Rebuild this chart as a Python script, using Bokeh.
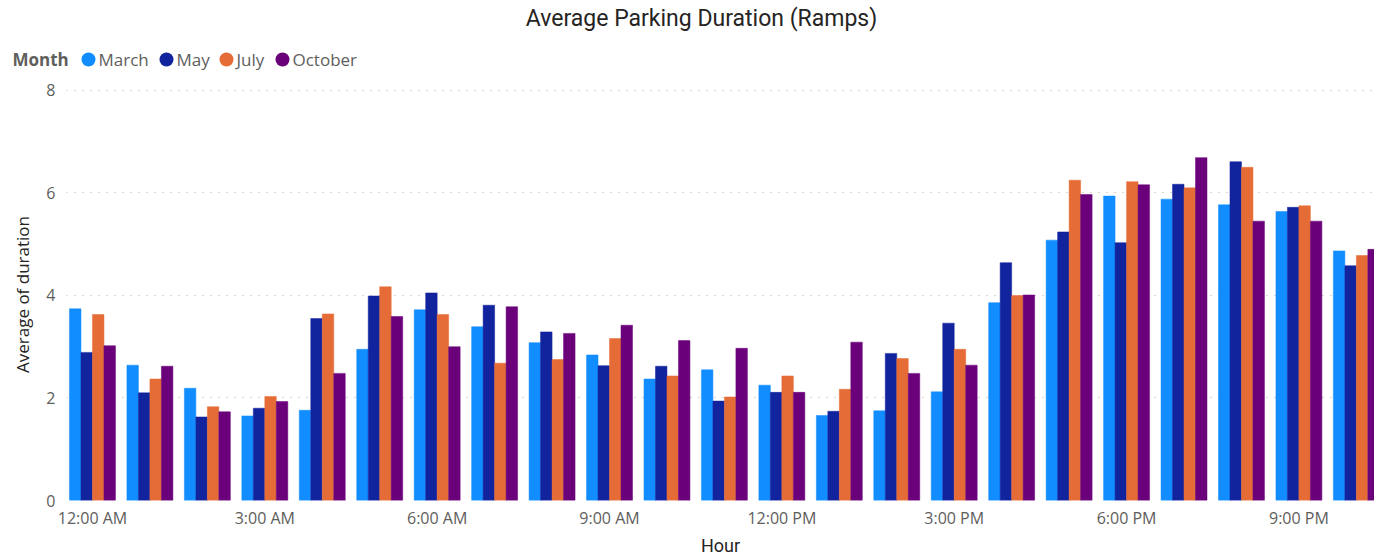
from bokeh.plotting import figure
from bokeh.models import ColumnDataSource, FixedTicker, Range1d
from bokeh.layouts import column, row
from bokeh.transform import dodge
from bokeh.core.properties import value
from bokeh.embed import file_html
from bokeh.resources import INLINE

# ---------------- data ----------------
hours = list(range(23))
months = ["March", "May", "July", "October"]
colors = ["#118DFF", "#12239E", "#E66C37", "#6B007B"]
march = [3.74, 2.64, 2.19, 1.65, 1.76, 2.95, 3.72, 3.39, 3.08, 2.84, 2.37, 2.55,
         2.25, 1.66, 1.75, 2.12, 3.86, 5.08, 5.94, 5.88, 5.77, 5.64, 4.87]
may = [2.89, 2.10, 1.63, 1.80, 3.55, 3.99, 4.05, 3.81, 3.29, 2.63, 2.62, 1.94,
       2.11, 1.74, 2.87, 3.46, 4.64, 5.24, 5.03, 6.17, 6.61, 5.72, 4.58]
july = [3.63, 2.37, 1.83, 2.03, 3.64, 4.17, 3.63, 2.68, 2.75, 3.16, 2.43, 2.02,
        2.43, 2.17, 2.77, 2.95, 4.00, 6.25, 6.22, 6.10, 6.50, 5.75, 4.78]
october = [3.02, 2.62, 1.73, 1.93, 2.48, 3.59, 3.00, 3.78, 3.26, 3.42, 3.12, 2.97,
           2.11, 3.09, 2.48, 2.64, 4.01, 5.97, 6.16, 6.69, 5.45, 5.45, 4.90]
tick_hours = [0, 3, 6, 9, 12, 15, 18, 21]
tick_labels = ["12:00 AM", "3:00 AM", "6:00 AM", "9:00 AM",
               "12:00 PM", "3:00 PM", "6:00 PM", "9:00 PM"]
y_ticks = [0, 2, 4, 6, 8]
title_text = "Average Parking Duration (Ramps)"
legend_title = "Month"

source = ColumnDataSource(dict(hour=hours, March=march, May=may, July=july, October=october))

# ---------------- layout ----------------
W = 1374
HEAD_H = 70
MAIN_H = 558 - HEAD_H
LEFT = 66
TOP = 88 - HEAD_H
BOTTOM = 56
PX_PER_HOUR = 57.45
X0 = -0.452
X1 = X0 + (W - LEFT) / PX_PER_HOUR
FRAME_H = MAIN_H - TOP - BOTTOM
Y1 = FRAME_H / 51.5

# ---------------- header (title + legend) ----------------
head = figure(width=W, height=HEAD_H, output_backend="svg", toolbar_location=None,
              x_range=Range1d(0, W), y_range=Range1d(HEAD_H, 0),
              min_border=0, min_border_left=0, min_border_right=0,
              min_border_top=0, min_border_bottom=0)
head.axis.visible = False
head.grid.visible = False
head.outline_line_color = None

head.text(x=[701], y=[18], text=[title_text], text_font=value("Roboto"),
          text_font_size="23px", text_color="#252423", text_align="center",
          text_baseline="middle")
head.text(x=[12], y=[59], text=[legend_title], text_font=value("Open Sans"),
          text_font_size="17px", text_font_style="bold", text_color="#605E5C",
          text_baseline="middle")
dot_x = [88, 166, 226, 282]
text_x = [98, 176, 236, 292]
head.scatter(x=dot_x, y=[59] * 4, size=14, marker="circle", fill_color=colors,
             line_color=None)
head.text(x=text_x, y=[59] * 4, text=months, text_font=value("Open Sans"),
          text_font_size="17px", text_color="#605E5C", text_baseline="middle")

# ---------------- main chart ----------------
p = figure(width=W, height=MAIN_H, output_backend="svg", toolbar_location=None,
           x_range=Range1d(X0, X1), y_range=Range1d(0, Y1),
           min_border_left=LEFT, min_border_right=0,
           min_border_top=TOP, min_border_bottom=BOTTOM)
p.outline_line_color = None

offsets = [-0.3, -0.1, 0.1, 0.3]
for m, c, off in zip(months, colors, offsets):
    p.vbar(x=dodge("hour", off, range=p.x_range), top=m, width=0.2, bottom=0,
           source=source, fill_color=c, line_color=c, line_width=0.5)

p.xaxis.ticker = FixedTicker(ticks=tick_hours)
p.xaxis.major_label_overrides = {h: l for h, l in zip(tick_hours, tick_labels)}
p.yaxis.ticker = FixedTicker(ticks=y_ticks)
for ax in (p.xaxis[0], p.yaxis[0]):
    ax.axis_line_color = None
    ax.major_tick_line_color = None
    ax.minor_tick_line_color = None
    ax.major_tick_out = 0
    ax.major_tick_in = 0
    ax.minor_tick_out = 0
    ax.minor_tick_in = 0
    ax.major_label_text_font = "Open Sans"
    ax.major_label_text_font_size = "16px"
    ax.major_label_text_color = "#605E5C"
    ax.axis_label_text_font_style = "normal"
    ax.axis_label_text_color = "#252423"
p.xaxis.major_label_standoff = 6
p.yaxis.major_label_standoff = 11

p.yaxis.axis_label = "Average of duration"
p.yaxis.axis_label_text_font = "Open Sans"
p.yaxis.axis_label_text_font_size = "17px"
p.yaxis.axis_label_standoff = 9
p.xaxis.axis_label = "Hour"
p.xaxis.axis_label_text_font = "Roboto"
p.xaxis.axis_label_text_font_size = "18px"
p.xaxis.axis_label_standoff = 3

p.xgrid.grid_line_color = None
p.ygrid.ticker = FixedTicker(ticks=y_ticks)
p.ygrid.grid_line_color = "#B3B0AD"
p.ygrid.grid_line_dash = "1 7"
p.ygrid.grid_line_width = 1

layout = column(row(head), p, spacing=0)
open("out.html", "w").write(file_html(layout, INLINE))
